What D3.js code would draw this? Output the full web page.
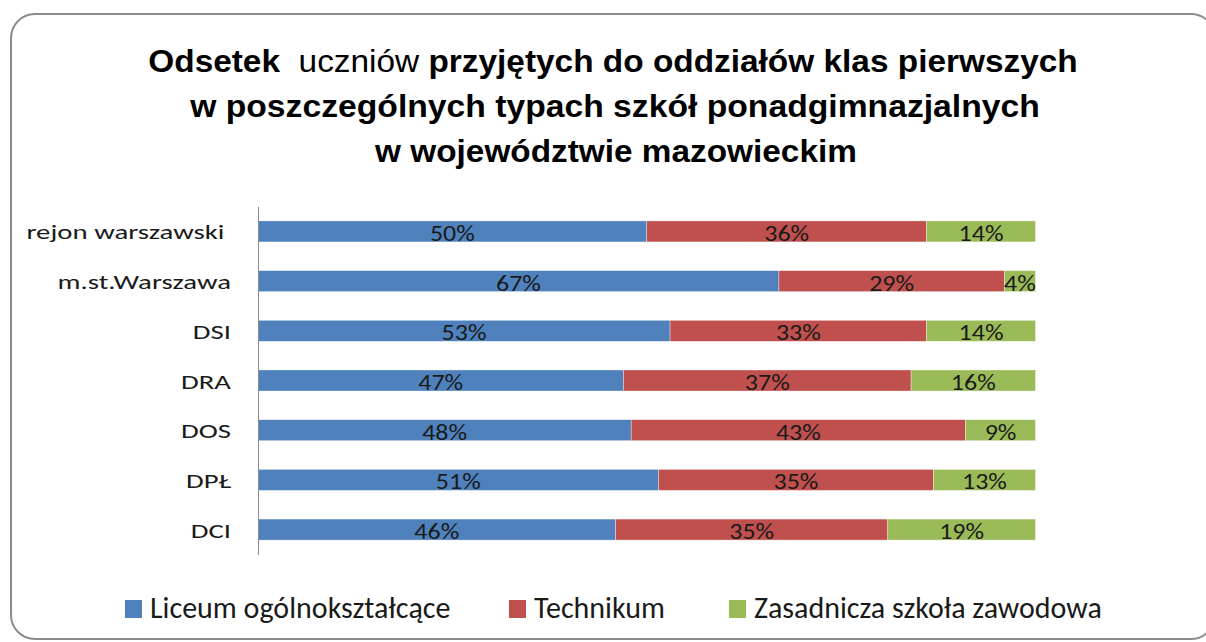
<!DOCTYPE html>
<html><head><meta charset="utf-8">
<script src="https://cdn.jsdelivr.net/npm/d3@7"></script>
<style>
html,body{margin:0;padding:0;background:#fff;}
svg{display:block;}
</style></head>
<body>
<svg id="chart" width="1206" height="642"></svg>
<script>
const categories = ["rejon warszawski ", "m.st.Warszawa", "DSI", "DRA", "DOS", "DPŁ", "DCI"];
const seriesNames = ["Liceum ogólnokształcące", "Technikum", "Zasadnicza szkoła zawodowa"];
const liceum = [50, 67, 53, 47, 48, 51, 46];
const technikum = [36, 29, 33, 37, 43, 35, 35];
const zasadnicza = [14, 4, 14, 16, 9, 13, 19];
const colors = ["#4F81BD", "#C0504D", "#9BBB59"];

const svg = d3.select("#chart");
const bodyFont = "Carlito, Calibri, 'Open Sans', sans-serif";
const titleFont = "'Liberation Sans', Arial, sans-serif";

function stretch(sel, sx, ax) {
  sel.attr("transform", `translate(${ax},0) scale(${sx},1) translate(${-ax},0)`);
}

// frame
svg.append("rect").attr("x", 11).attr("y", 14).attr("width", 1204).attr("height", 625)
  .attr("rx", 24).attr("ry", 24).attr("fill", "#fff").attr("stroke", "#8c8c8c").attr("stroke-width", 2);

// title
const titleG = svg.append("g").attr("font-family", titleFont).attr("font-weight", "bold").attr("fill", "#000")
  .attr("font-size", 32);
const tl = [
  {y: 72, w: 930, cx: 613},
  {y: 117, w: 850, cx: 615},
  {y: 162, w: 482, cx: 616}
];
const t1 = titleG.append("text").attr("x", tl[0].cx).attr("y", tl[0].y).attr("text-anchor", "middle").style("white-space", "pre");
t1.append("tspan").text("Odsetek  ");
t1.append("tspan").attr("font-weight", "normal").text("uczniów ");
t1.append("tspan").text("przyjętych do oddziałów klas pierwszych");
const t2 = titleG.append("text").attr("x", tl[1].cx).attr("y", tl[1].y).attr("text-anchor", "middle")
  .text("w poszczególnych typach szkół ponadgimnazjalnych");
const t3 = titleG.append("text").attr("x", tl[2].cx).attr("y", tl[2].y).attr("text-anchor", "middle")
  .text("w województwie mazowieckim");
[t1, t2, t3].forEach((t, i) => {
  const len = t.node().getComputedTextLength();
  stretch(t, tl[i].w / len, tl[i].cx);
});

// data
const rows = categories.map((c, i) => ({cat: c, s0: liceum[i], s1: technikum[i], s2: zasadnicza[i]}));
const stacked = d3.stack().keys(["s0", "s1", "s2"]).offset(d3.stackOffsetExpand)(rows);

const x = d3.scaleLinear().domain([0, 1]).range([258, 1035.5]);
const y = d3.scaleBand().domain(categories).range([207, 554]).paddingInner(0.577).paddingOuter(0.28);

const g = svg.append("g");
stacked.forEach((layer, li) => {
  g.selectAll(null).data(layer).enter().append("rect")
    .attr("x", d => x(d[0])).attr("width", d => x(d[1]) - x(d[0]))
    .attr("y", d => y(d.data.cat)).attr("height", y.bandwidth())
    .attr("fill", colors[li]).attr("stroke", "#fff").attr("stroke-width", 0.6).attr("stroke-opacity", 0.6);
  g.selectAll(null).data(layer).enter().append("text")
    .attr("x", d => (x(d[0]) + x(d[1])) / 2)
    .attr("y", d => y(d.data.cat) + y.bandwidth() / 2 + 9.5)
    .attr("text-anchor", "middle").attr("font-family", bodyFont).attr("font-size", 23).attr("fill", "#1a1a1a")
    .text(d => d.data["s" + li] + "%")
    .each(function(d) { stretch(d3.select(this), 1.13, (x(d[0]) + x(d[1])) / 2); });
});

// y axis
const yAxis = d3.axisLeft(y).tickSize(0).tickPadding(0);
const ya = svg.append("g").attr("transform", "translate(258,0)").call(yAxis);
ya.select(".domain").attr("stroke", "#8c8c8c").attr("d", "M0.5,207V555");
ya.selectAll(".tick text").attr("font-family", bodyFont).attr("font-size", 20).attr("fill", "#1a1a1a")
  .attr("x", 0).attr("dy", 8).style("white-space", "pre")
  .attr("transform", "translate(-27,0) scale(1.44,1)");

// legend
const legX = [125, 509, 729];
const leg = svg.append("g");
seriesNames.forEach((n, i) => {
  leg.append("rect").attr("x", legX[i]).attr("y", 600).attr("width", 17).attr("height", 18).attr("fill", colors[i]);
  leg.append("text").attr("x", legX[i] + 25).attr("y", 617.5).attr("font-family", bodyFont).attr("font-size", 30)
    .attr("fill", "#1a1a1a").text(n);
});
</script>
</body></html>
